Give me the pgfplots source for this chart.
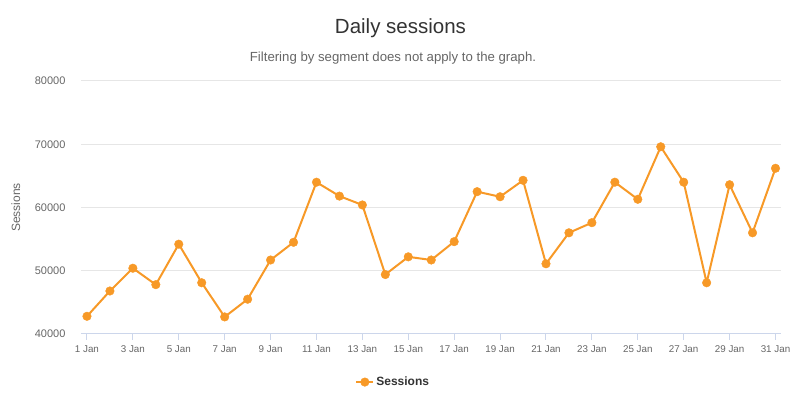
\documentclass[border=0pt]{standalone}
\usepackage{fontspec}
\setmainfont{Liberation Sans}
\usepackage{pgfplots}
\pgfplotsset{compat=1.18}
\definecolor{lineor}{RGB}{247,153,39}
\definecolor{axisblue}{RGB}{204,214,235}
\definecolor{gridgray}{RGB}{230,230,230}
\definecolor{ticktext}{RGB}{102,102,102}
\definecolor{titletext}{RGB}{51,51,51}
\pgfplotstableread{
day sessions
1 42800
2 46800
3 50400
4 47800
5 54200
6 48100
7 42700
8 45500
9 51700
10 54500
11 64000
12 61800
13 60400
14 49400
15 52200
16 51700
17 54600
18 62500
19 61700
20 64300
21 51100
22 56000
23 57600
24 64000
25 61300
26 69600
27 64000
28 48100
29 63600
30 56000
31 66200
}\sessdata
\begin{document}
\begin{tikzpicture}[x=1pt,y=1pt]
\path[use as bounding box] (0,0) rectangle (800,398);
\node[font=\fontsize{20.5}{24}\selectfont, text=titletext] at (400.5,370) {Daily sessions};
\node[font=\fontsize{13.2}{15}\selectfont, text=ticktext] at (393,340) {Filtering by segment does not apply to the graph.};
\begin{axis}[
  at={(81pt,64pt)}, anchor=south west,
  scale only axis, width=700pt, height=253pt,
  xmin=0.74, xmax=31.24, ymin=40000, ymax=80000,
  ytick={40000,50000,60000,70000,80000},
  xtick={1,3,...,31},
  xticklabels={1 Jan,3 Jan,5 Jan,7 Jan,9 Jan,11 Jan,13 Jan,15 Jan,17 Jan,19 Jan,21 Jan,23 Jan,25 Jan,27 Jan,29 Jan,31 Jan},
  scaled y ticks=false,
  /pgf/number format/.cd, 1000 sep={}, assume math mode=true, /pgfplots/.cd,
  axis x line*=bottom, axis y line*=left,
  x axis line style={draw=axisblue, line width=1pt},
  y axis line style={draw=none},
  ytick style={draw=none},
  xtick style={draw=axisblue, line width=1pt},
  tick align=outside, major tick length=6pt,
  ymajorgrids, major grid style={draw=gridgray, line width=1pt},
  yticklabel style={font=\fontsize{11}{13}\selectfont, text=ticktext, xshift=-6pt},
  xticklabel style={font=\fontsize{9.8}{11}\selectfont, text=ticktext, yshift=-2pt},
  ylabel={Sessions},
  ylabel style={at={(axis description cs:-0.093,0.5)}, anchor=center, font=\fontsize{12}{14}\selectfont, text=ticktext},
  legend style={at={(0.446,-0.19)}, anchor=center, draw=none, fill=none, font=\fontsize{12}{14}\selectfont\bfseries, text=titletext},
  clip=false,
]
\addplot[color=lineor, line width=2pt, mark=*, mark size=4.3pt, mark options={solid, fill=lineor, draw=lineor, line width=0.4pt}] table[x=day, y=sessions] {\sessdata};
\addlegendentry{Sessions}
\end{axis}
\end{tikzpicture}
\end{document}
